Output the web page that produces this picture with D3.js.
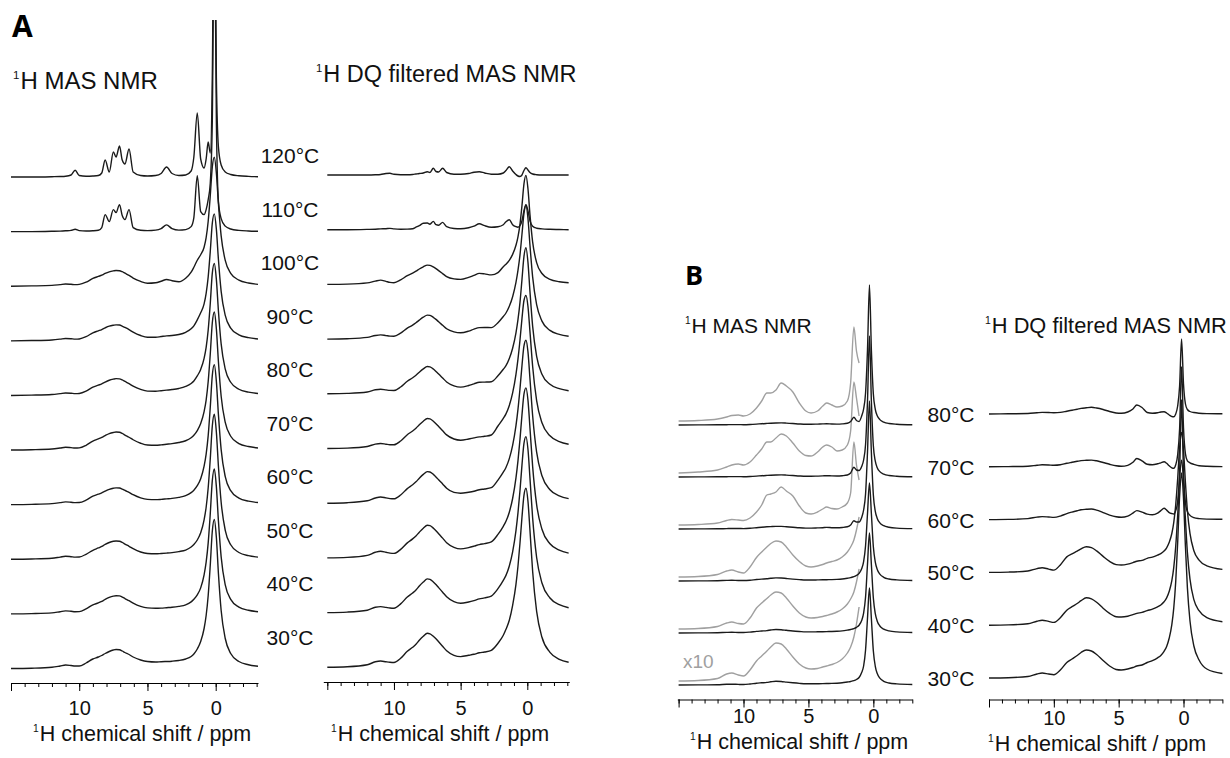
<!DOCTYPE html>
<html>
<head>
<meta charset="utf-8">
<script src="https://cdn.jsdelivr.net/npm/d3@7"></script>
<style>
  body { margin: 0; background: #fff; }
  svg { display: block; font-family: "Liberation Sans", Arial, sans-serif; }
  .trace { fill: none; stroke: #1a1a1a; stroke-width: 1.4px; stroke-linejoin: round; }
  .trace.x10 { stroke: #a0a0a0; }
  .axis path, .axis line { stroke: #000; stroke-width: 1px; }
  .axis text { font-size: 20px; fill: #111; font-family: "Liberation Sans", Arial, sans-serif; }
  .lbl { font-size: 21px; fill: #111; }
  .panel-letter { font-family: "Open Sans", sans-serif; font-weight: 700; fill: #000; }
</style>
</head>
<body>
<svg id="chart" width="1230" height="758"></svg>
<script>
// ---- data (intensities, arbitrary units) ----
const tempsA = [30, 40, 50, 60, 70, 80, 90, 100, 110, 120];
const tempsB = [30, 40, 50, 60, 70, 80];
const tickLabels = [10, 5, 0];

// chemical shift grid for panel A (ppm)
const ppmA = [15, 13.5, 12, 11.4, 11, 10.6, 10.3, 10, 9.5, 9, 8.6, 8.35, 8.1, 7.8, 7.5, 7.3, 7.05, 6.85, 6.65, 6.35,
  6.05, 5.5, 5, 4.4, 4, 3.6, 3.2, 2.7, 2.2, 1.8, 1.6, 1.35, 1.1, 0.85, 0.7, 0.55, 0.4, 0.25, 0.1, -0.05,
  -0.2, -0.4, -0.7, -1.1, -1.7, -2.4, -3.1];

// A: 1H MAS NMR, one row per temperature (30 -> 120 C)
const masA = [
  [0, 0.3, 1.2, 2.5, 3.5, 3, 2.5, 2.5, 5.5, 9.5, 11.5, 13, 15, 17, 18.5, 19, 18.8, 17.5, 16, 14,
   11.5, 8.5, 7, 6.5, 6.8, 7, 7.3, 8, 9.5, 12, 14.5, 19.5, 27, 40, 53, 73, 103, 137, 149, 131,
   95, 58, 30, 15, 7, 3.8, 2.2],
  [0, 0.3, 1, 2.2, 3, 2.6, 2.2, 2.3, 5, 9, 11, 12.5, 14.5, 16.5, 17.8, 18.2, 18, 16.8, 15.3, 13.2,
   10.8, 7.5, 6, 5.6, 5.8, 6.2, 6.6, 7.5, 9, 12, 14.6, 19, 26, 39, 51.7, 71, 99.8, 133, 145, 127,
   93, 57, 29, 14.5, 6.8, 3.6, 2.2],
  [0, 0.3, 1, 2.2, 3, 2.6, 2.2, 2.3, 5, 9, 11.3, 12.8, 14.8, 16.8, 18, 18.3, 18, 16.8, 15.2, 13,
   10.6, 7.3, 5.8, 5.5, 5.8, 6.2, 6.7, 7.7, 9.2, 12.2, 14.8, 19.3, 26.5, 39.5, 52, 71.5, 100, 133, 145, 127,
   93, 57, 29, 14.5, 6.8, 3.6, 2.2],
  [0, 0.3, 1, 2, 2.8, 2.4, 2, 2.1, 4.5, 8.5, 10.5, 11.8, 13.5, 15.3, 16.4, 16.8, 16.6, 15.6, 14.2, 12.3,
   10, 6.8, 5.3, 5, 5.3, 5.8, 6.3, 7.3, 9, 12, 14.5, 19, 26, 38.5, 50.5, 69, 97, 129, 140, 123,
   90, 55, 28, 14, 6.6, 3.5, 2.1],
  [0, 0.3, 1, 2, 2.8, 2.4, 2, 2.2, 4.8, 9, 11.2, 12.6, 14.5, 16.5, 17.6, 18, 17.8, 16.6, 15, 12.8,
   10.3, 6.8, 5, 4.8, 5.2, 5.8, 6.4, 7.5, 9.3, 12.3, 14.8, 19.5, 26.5, 38.5, 50, 68.5, 95.5, 127, 138, 121,
   88.3, 53.8, 27.6, 13.8, 6.5, 3.5, 2.1],
  [0, 0.3, 0.9, 1.8, 2.5, 2.2, 1.8, 2, 4.3, 8.3, 10.3, 11.6, 13.4, 15.2, 16.3, 16.8, 16.6, 15.5, 14, 11.8,
   9.3, 6, 4.3, 4.2, 4.7, 5.3, 5.9, 7, 9, 12, 14.5, 19.5, 26, 37, 48, 65.5, 91.5, 122, 132, 115.8,
   84.5, 51.5, 26.4, 13.2, 6.2, 3.3, 2],
  [0, 0.3, 0.9, 1.7, 2.4, 2.1, 1.7, 1.9, 4.1, 8, 10, 11.3, 13, 14.7, 15.6, 16, 15.8, 14.8, 13.4, 11.2,
   8.7, 5.3, 3.6, 3.6, 4.3, 5, 5.3, 6.3, 8.5, 12, 15, 21, 28, 37, 47.5, 64, 89, 117.5, 127, 111.4,
   81.3, 49.5, 25.4, 12.7, 6, 3.2, 1.9],
  [0, 0.3, 0.8, 1.6, 2.2, 1.9, 1.6, 1.8, 4, 7.8, 9.8, 11, 12.8, 14.4, 15.3, 15.7, 15.5, 14.5, 13, 10.8,
   8.2, 4.8, 3, 3.5, 5, 6.7, 5.5, 4.5, 8, 14, 19, 26, 31.5, 39, 48.5, 65, 90, 119, 129, 113.1,
   82.6, 50.3, 25.8, 12.9, 6.1, 3.2, 1.9],
  [0, 0, 0.3, 0.5, 0.8, 1.2, 2.3, 1, 0.6, 0.8, 1.3, 4, 17, 10, 22, 19, 27, 16, 12, 22,
   4, 1.3, 1, 1.5, 3, 6.7, 3, 1.5, 2, 5, 14, 56, 20, 17, 22, 32, 48, 110, 330, 110,
   30, 13, 5.5, 2.6, 1.2, 0.6, 0.3],
  [0, 0, 0.3, 0.5, 0.8, 2, 6.7, 1.5, 0.8, 1, 1.5, 4, 17, 5, 25, 20, 31, 17, 13, 28,
   5, 1.5, 1, 1.5, 3.5, 10, 3.5, 1.5, 2, 6, 20, 64, 18, 9, 18, 35, 24, 99, 320, 99,
   30, 12, 5, 2.5, 1.2, 0.6, 0.3]
];

// A: 1H DQ filtered MAS NMR (30 -> 120 C)
const dqA = [
  [0, 0.5, 2.5, 5.5, 6.3, 5.5, 5, 4.8, 9, 16, 20, 23, 27, 31, 34, 33.5, 31, 28.5, 25.5, 21,
   16.5, 12, 10.7, 12, 13, 14.5, 15.3, 17, 24, 32, 38, 47, 62, 83, 101, 124, 150, 172, 179, 166,
   137, 96, 56, 30, 15, 8, 5],
  [0, 0.5, 2.4, 5.3, 6, 5.2, 4.6, 4.4, 8.7, 15.6, 19.6, 22.6, 26.6, 30.6, 33.7, 33.2, 30.7, 28, 25, 20.4,
   15.8, 11, 9.3, 10.6, 12, 13.7, 14.7, 16.5, 23.9, 32.2, 37.2, 46.6, 60.8, 82, 99.7, 121.8, 147.5, 169.3, 176, 163.3,
   134.5, 94.7, 55.1, 29.6, 14.6, 7.9, 4.9],
  [0, 0.5, 2.5, 5.6, 6.6, 5.6, 4.8, 4.5, 8.5, 15, 19, 22, 25.7, 29.7, 32.6, 32.2, 29.8, 27.2, 24.2, 19.8,
   15.2, 10.6, 9, 10.3, 11.7, 13.3, 14.3, 16, 23.5, 31.6, 36.6, 45.7, 59.4, 80, 97, 118.3, 142.9, 163.8, 170, 157.8,
   129.9, 91.5, 53.2, 28.6, 14.1, 7.7, 4.8],
  [0, 0.5, 2.4, 5.2, 6.2, 5.3, 4.6, 4.4, 8.2, 14.6, 18.5, 21.4, 25, 28.8, 31.6, 31.2, 28.8, 26.3, 23.4, 19.2,
   14.9, 10.8, 10, 11, 12, 13.5, 14.2, 15.5, 23.1, 31, 35.7, 44.6, 57.8, 77.6, 93.9, 114.2, 137.5, 157.3, 163, 151.3,
   124.5, 87.7, 51, 27.4, 13.5, 7.3, 4.6],
  [0, 0.4, 2, 4.4, 5, 4.3, 3.8, 3.7, 7.5, 13.8, 17.5, 20.3, 23.7, 27.3, 30, 29.6, 27.3, 24.8, 22, 17.8,
   13.6, 9.5, 8.3, 9.5, 10.6, 11.6, 12.2, 13.5, 22.5, 30.1, 34.6, 43, 55.6, 74.2, 89.4, 108.3, 129.9, 148, 153, 142,
   116.9, 82.3, 47.9, 25.7, 12.7, 6.9, 4.3],
  [0, 0.4, 1.8, 4, 4.6, 3.9, 3.4, 3.3, 6.8, 12.5, 16, 18.5, 21.6, 24.9, 27.3, 26.9, 24.8, 22.4, 19.8, 15.8,
   11.8, 8, 6.7, 8.3, 10, 11.5, 11.7, 12, 18, 24.5, 28.1, 35.3, 45.6, 61, 74.2, 91.2, 114.2, 137.4, 146, 131.4,
   102.2, 67.7, 37.5, 19.6, 9.5, 5.1, 3.1],
  [0, 0.4, 1.7, 3.6, 4.2, 3.5, 3, 2.9, 6, 11, 14, 16.3, 19, 21.9, 24, 23.7, 21.8, 19.7, 17.3, 13.8,
   10.3, 7.2, 6.3, 8, 10, 11.5, 11.6, 11.5, 16.4, 22.6, 26.1, 32.8, 42.4, 56.7, 68.7, 84, 104.8, 125.6, 134, 120.6,
   93.8, 62.2, 34.4, 18, 8.7, 4.7, 2.8],
  [0, 0.3, 1.5, 3.3, 4.3, 3, 2, 1.7, 4.5, 8.8, 11.3, 13.2, 15.4, 17.6, 19.3, 19, 17.5, 15.8, 13.8, 10.8,
   7.8, 5.5, 5, 7, 9, 11, 10.5, 9.5, 11.8, 17.7, 20.2, 24.1, 30, 39.1, 47.6, 60.1, 78.8, 100.6, 109, 95.6,
   69.8, 42.5, 21.8, 10.9, 5.1, 2.7, 1.6],
  [0, 0, 0.3, 0.5, 0.8, 1, 1.3, 0.8, 0.5, 0.6, 1, 2.5, 4, 6.5, 6.7, 5.5, 8.3, 5, 4.5, 7.3,
   3, 1.2, 1, 2, 3.5, 6, 4, 2.5, 3, 5, 8, 10, 5, 3, 2.5, 4, 9, 19, 25, 19,
   9, 3.5, 1.5, 0.8, 0.4, 0.2, 0],
  [0, 0, 0, 0.2, 0.5, 1.5, 1.7, 0.7, 0.3, 0.3, 0.5, 1, 1.5, 2, 3.3, 2.5, 6.7, 3.5, 3, 6.7,
   2.5, 0.8, 0.8, 1.5, 2.8, 3.3, 2, 0.8, 0.8, 2, 4.5, 8.3, 4, 0.5, -1, -1.5, 0, 4.5, 7.3, 5,
   2.5, 1, 0.3, 0, 0, 0, 0]
];

// chemical shift grid for panel B (ppm)
const ppmB = [15, 13.5, 12, 11.3, 10.9, 10.4, 10, 9.5, 9, 8.6, 8.2, 7.9, 7.5, 7.1, 6.7, 6.2, 5.7, 5.2, 4.8, 4.3,
  3.9, 3.6, 3.2, 2.8, 2.4, 2, 1.75, 1.5, 1.3, 1.1, 0.9, 0.75, 0.6, 0.45, 0.3, 0.15, 0, -0.15, -0.3, -0.5,
  -0.8, -1.2, -1.8, -3];

// B: 1H MAS NMR (30 -> 80 C)
const masB = [
  [0, 0.1, 0.3, 0.7, 0.8, 0.6, 0.5, 1, 1.8, 2.2, 2.6, 3.2, 3.8, 3.5, 2.9, 2.2, 1.6, 1.2, 1.2, 1.3,
   1.4, 1.5, 1.6, 1.8, 2.2, 3, 3.5, 4.3, 5.5, 7.5, 12.5, 19, 35, 67, 97, 66, 34, 18.7, 11.4, 6.8,
   3.7, 2, 1.1, 0.5],
  [0, 0.1, 0.3, 0.6, 0.7, 0.5, 0.5, 0.9, 1.6, 2, 2.4, 3, 3.5, 3.3, 2.7, 2, 1.5, 1.1, 1.1, 1.2,
   1.3, 1.4, 1.5, 1.7, 2.1, 2.9, 3.5, 4.4, 5.7, 7.8, 12.5, 19.8, 36, 69, 100, 68, 35, 19.3, 11.8, 7,
   3.8, 2.1, 1.1, 0.5],
  [0, 0.1, 0.3, 0.6, 0.7, 0.5, 0.5, 0.8, 1.5, 1.9, 2.2, 2.7, 3.1, 3, 2.5, 1.9, 1.4, 1, 1, 1.1,
   1.2, 1.3, 1.4, 1.6, 2, 2.8, 3.4, 4.3, 5.6, 7.6, 12.2, 19.4, 35.3, 67.5, 98, 67, 34.3, 18.9, 11.6, 6.9,
   3.7, 2, 1.1, 0.5],
  [0, 0.1, 0.2, 0.4, 0.5, 0.5, 0.4, 0.7, 1.3, 1.8, 2.2, 2.4, 2.6, 2.6, 2.3, 1.8, 1.2, 0.9, 0.9, 1.1,
   1.3, 1.6, 1.3, 1.2, 1.5, 2.2, 4, 8.3, 7, 7, 11.5, 19, 35, 77, 128, 76, 34, 17.7, 10.6, 6.1,
   3.3, 1.8, 0.9, 0.4],
  [0, 0.1, 0.2, 0.3, 0.4, 0.4, 0.3, 0.5, 0.9, 1.3, 1.6, 1.8, 2, 2.1, 1.9, 1.5, 1, 0.7, 0.7, 0.9,
   1.1, 1.3, 1.1, 1, 1.3, 2, 4, 9.7, 7, 6.5, 10.5, 17, 32.5, 76, 141, 75, 31.2, 15.8, 9.3, 5.4,
   2.9, 1.5, 0.8, 0.3],
  [0, 0.1, 0.2, 0.3, 0.4, 0.4, 0.3, 0.5, 0.9, 1.3, 1.6, 1.8, 2, 2.1, 1.9, 1.5, 1, 0.7, 0.7, 0.9,
   1.1, 1.2, 1, 0.9, 1.1, 1.7, 3.5, 7.7, 4.5, 3.5, 9, 16, 32, 75.5, 140, 74.5, 31, 15.7, 9.2, 5.4,
   2.9, 1.5, 0.8, 0.3]
];

// B: x10 expansion of the MAS traces, 15 -> 1.1 ppm (first 30 grid points)
const masBx10 = [
  [0, 0.5, 2.5, 7, 8, 6, 5, 11, 20, 25, 30, 34, 38, 37, 32, 24, 17, 13, 12, 12.5,
   14, 15, 16.5, 18.5, 22, 28, 34, 44, 57, 74],
  [0, 0.5, 2.5, 6, 7, 5.5, 5, 11, 21, 26, 30.5, 34, 37, 36, 31, 23, 16, 12, 11, 11.5,
   12.5, 13.5, 15, 17, 20, 25, 30, 37, 47, 60],
  [0, 0.5, 2.5, 6, 7, 5, 4, 10, 19.5, 25, 30, 33.5, 36, 35, 30, 22, 15.5, 11, 10, 11,
   12.5, 14, 15.5, 17, 20, 25, 30, 37, 47, 60],
  [0, 0.5, 2, 4.5, 5.5, 5, 4.5, 7, 13, 20, 30, 31, 33, 38, 34, 29, 19, 12, 11, 13,
   16, 18, 16.5, 16, 18, 22, 32, 83, 60, 45],
  [0, 1, 3, 6, 8, 9, 8, 11, 18, 24, 31, 31, 35, 39, 37, 30, 22, 17.5, 17, 21,
   26, 28, 26, 22, 23, 28, 42, 91, 75, 57],
  [0, 0.5, 2, 4, 5.5, 6, 5, 7, 13, 20, 28, 28, 31, 38, 35, 29, 18, 10, 8, 10,
   15, 18, 16, 14, 15, 20, 38, 94, 70, 58]
];

// B: 1H DQ filtered MAS NMR (30 -> 80 C)
const dqB = [
  [0, 0.3, 1.5, 4, 5, 4, 3.3, 8, 15.5, 19, 22.5, 25.5, 28, 27, 23.5, 17.5, 12, 8.5, 8, 9,
   10.5, 12, 13, 15.5, 17.4, 20.2, 22.6, 26.6, 31.6, 40, 53.3, 70.1, 96.4, 135.2, 181.8, 205, 179.8, 131.2, 90.4, 57,
   32, 18, 9, 4.5],
  [0, 0.3, 1.5, 4, 5, 3.8, 2.8, 7.5, 15, 18.5, 21.7, 24.5, 27.4, 26.4, 23, 17, 11.8, 8.5, 8.2, 9,
   10.5, 11.8, 12.8, 14.6, 16.1, 18.4, 20.2, 23.4, 27.3, 33.9, 44.5, 57.8, 78.8, 109.6, 146.7, 165, 144.7, 105.6, 72.8, 46,
   25.5, 14.5, 7.5, 3.5],
  [0, 0.3, 1.4, 3.8, 4.7, 3.3, 2.3, 7.5, 15.5, 18.5, 21.2, 23.5, 25.7, 24.8, 21.5, 16, 11, 7.8, 7.4, 8.3,
   9.8, 11.2, 12, 14.1, 15.3, 17.3, 18.8, 21.3, 24.6, 30.1, 38.9, 50.1, 67.7, 93.6, 124.8, 140, 122.8, 89.6, 61.7, 39,
   21.7, 12.3, 6.5, 3],
  [0, 0.2, 1, 2.5, 3, 2.6, 2.2, 3.5, 6, 7.5, 8.8, 9.8, 10.3, 10.6, 9.5, 7, 4.5, 2.8, 2.3, 3.5,
   6.5, 9, 7.5, 5.5, 4.8, 6.5, 9, 11.3, 9.5, 7, 6, 5.6, 9, 18, 48, 120, 47, 17, 8, 4.2,
   2, 1, 0.5, 0.3],
  [0, 0.2, 0.6, 1.5, 2, 1.8, 1.5, 2, 3.5, 4.5, 5.5, 6.2, 6.5, 6.7, 6, 4.3, 2.5, 1, 0.5, 1.5,
   4.5, 8.3, 6, 2.5, 2, 3, 4, 5, 3.5, 1, -1, -1.5, 2, 12, 38, 100, 39, 13, 6, 4,
   2.5, 1, 0.5, 0.2],
  [0, 0.2, 0.5, 1.2, 1.6, 1.5, 1.2, 1.6, 2.8, 3.8, 4.8, 5.6, 6.2, 6.7, 6, 4.5, 2.5, 1, 0.7, 2,
   5, 9, 6.5, 1.5, 0.7, 1.2, 2, 2.3, 1, -1, -2.5, -2.7, 0, 8, 28, 75, 30, 10, 4.5, 2.5,
   1.5, 0.8, 0.4, 0.2]
];

// ---- layout ----
const svg = d3.select("#chart");
const yInt = d3.scaleLinear().domain([0, 100]).range([0, -100]);

svg.append("defs").append("clipPath").attr("id", "clipA")
  .append("rect").attr("x", 0).attr("y", 20).attr("width", 320).attr("height", 700);

const panels = [
  { temps: tempsA, ppm: ppmA, rows: masA, domain: [15, -3.1], range: [11, 258],
    baseRange: [668.5, 177], axisY: 683, pad: 10, titleX: 33, titleY: 741, clip: "url(#clipA)" },
  { temps: tempsA, ppm: ppmA, rows: dqA, domain: [15.3, -3.15], range: [323.3, 569.3],
    baseRange: [667.3, 175], axisY: 682, pad: 11, titleX: 331, titleY: 741 },
  { temps: tempsB, ppm: ppmB, rows: masB, x10: masBx10, domain: [15.1, -3], range: [677.3, 912.3],
    baseRange: [685, 425], axisY: 699.5, pad: 1, titleX: 690, titleY: 749 },
  { temps: tempsB, ppm: ppmB, rows: dqB, domain: [15, -3], range: [989, 1222.4],
    baseRange: [678, 414], axisY: 699.5, pad: 3, titleX: 988, titleY: 751 }
];

// text with a small raised "1" in front (1H)
function supText(sel, x, y, size, rest) {
  const t = sel.append("text").attr("x", x).attr("y", y)
    .style("font-size", size + "px").style("fill", "#111");
  t.append("tspan").text("1").style("font-size", (size * 0.48) + "px").attr("dy", -size * 0.42);
  t.append("tspan").text(rest).attr("dy", size * 0.42).attr("dx", 1);
  return t;
}

panels.forEach(function (p) {
  const x = d3.scaleLinear().domain(p.domain).range(p.range);
  const base = d3.scalePoint().domain(p.temps).range(p.baseRange);
  const g = svg.append("g");
  const traces = g.append("g");
  if (p.clip) traces.attr("clip-path", p.clip);

  const line = function (t, off) {
    return d3.line()
      .x(d => x(d[0]))
      .y(d => base(t) - off + yInt(d[1]))
      .curve(d3.curveMonotoneX);
  };

  // grey x10 expansions first
  if (p.x10) {
    p.x10.forEach(function (row, i) {
      const t = p.temps[i];
      const pts = row.map((v, j) => [p.ppm[j], v]);
      traces.append("path").attr("class", "trace x10").attr("d", line(t, 4)(pts));
    });
  }

  p.rows.forEach(function (row, i) {
    const t = p.temps[i];
    const pts = row.map((v, j) => [p.ppm[j], v]);
    traces.append("path").attr("class", "trace").attr("d", line(t, 0)(pts));
  });

  // axis: minor ticks every ppm, major every 5 ppm
  const lo = Math.ceil(Math.min(...p.domain)), hi = Math.floor(Math.max(...p.domain));
  const minor = d3.range(lo, hi + 1);
  const major = minor.filter(d => d % 5 === 0);
  const ax = g.append("g").attr("class", "axis").attr("transform", "translate(0," + p.axisY + ")");
  ax.call(d3.axisBottom(x).tickValues(minor).tickSize(4).tickSizeOuter(0).tickFormat(""));
  ax.append("g").call(
    d3.axisBottom(x).tickValues(major).tickSize(8).tickSizeOuter(0).tickPadding(p.pad)
      .tickFormat(d => tickLabels.includes(d) ? d : "")
  ).select(".domain").remove();

  supText(g, p.titleX, p.titleY, 21.5, "H chemical shift / ppm");
});

// temperature labels
const labA = d3.scalePoint().domain(tempsA).range([645, 163]);
svg.append("g").selectAll("text").data(tempsA).join("text")
  .attr("class", "lbl").attr("text-anchor", "middle")
  .attr("x", 290).attr("y", d => labA(d)).text(d => d + "°C");

const labB = d3.scalePoint().domain(tempsB).range([686, 422]);
svg.append("g").selectAll("text").data(tempsB).join("text")
  .attr("class", "lbl").attr("text-anchor", "middle")
  .attr("x", 951).attr("y", d => labB(d)).text(d => d + "°C");

// panel titles
supText(svg, 13, 89, 24, "H MAS NMR");
supText(svg, 316, 82, 23.5, "H DQ filtered MAS NMR");
supText(svg, 685, 333, 21, "H MAS NMR");
supText(svg, 985, 333, 21.8, "H DQ filtered MAS NMR");

svg.append("text").attr("class", "panel-letter").attr("x", 12).attr("y", 37)
  .style("font-size", "30px").text("A");
svg.append("text").attr("class", "panel-letter").attr("x", 685).attr("y", 285)
  .style("font-size", "27px").text("B");

svg.append("text").attr("x", 683).attr("y", 668)
  .style("font-size", "19px").style("fill", "#a0a0a0").text("x10");
</script>
</body>
</html>
